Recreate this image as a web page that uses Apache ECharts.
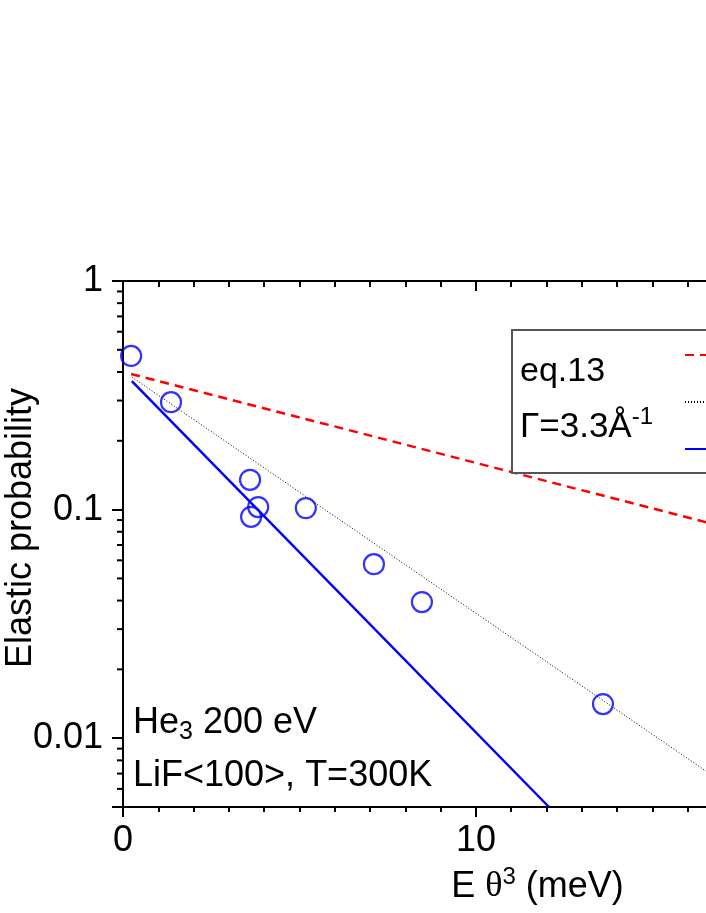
<!DOCTYPE html>
<html>
<head>
<meta charset="utf-8">
<script src="https://cdn.jsdelivr.net/npm/echarts@6/dist/echarts.min.js"></script>
<style>
html,body{margin:0;padding:0;background:#fff;}
#main{width:706px;height:913px;}
</style>
</head>
<body>
<div id="main"></div>
<script>
// measured points (E theta^3 in meV, elastic probability)
var xPoints = [0.23, 1.36, 3.6, 3.83, 3.63, 5.18, 7.11, 8.47, 13.6];
var yPoints = [0.47, 0.295, 0.135, 0.1026, 0.093, 0.1015, 0.0577, 0.0394, 0.0141];

// straight lines on the log plot, start and end
var eqX = [0.23, 20];
var eqY = [0.392, 0.064];
var gammaX = [0.25, 18.0];
var gammaY = [0.38, 0.005];
var fitX = [0.25, 12.07];
var fitY = [0.365, 0.005];

var yMinorTicks = [0.006, 0.007, 0.008, 0.009,
	0.02, 0.03, 0.04, 0.05, 0.06, 0.07, 0.08, 0.09,
	0.2, 0.3, 0.4, 0.5, 0.6, 0.7, 0.8, 0.9];

var FONT = '"Liberation Sans", Arial, sans-serif';

function zip(a, b) {
	return a.map(function(v, i) { return [v, b[i]]; });
}

function logLabel(v) {
	var e = Math.log10(v);
	if (Math.abs(e - Math.round(e)) > 1e-6) return '';
	return String(+v.toPrecision(3));
}

var myChart = echarts.init(document.getElementById('main'));

var tickStyle = {color: '#000', width: 2};

var option = {
	animation: false,
	backgroundColor: '#fff',
	grid: {
		left: 123,
		top: 281,
		bottom: 106,
		right: -264,
		containLabel: false,
		outerBoundsMode: 'none'
	},
	legend: {
		data: ['eq.13', 'Γ=3.3Å⁻¹', 'fit'],
		orient: 'vertical',
		left: 679,
		top: 344,
		itemWidth: 60,
		itemHeight: 14,
		itemGap: 35,
		selectedMode: false,
		textStyle: {fontSize: 12, color: '#000'}
	},
	xAxis: [{
		type: 'value',
		position: 'bottom',
		min: 0,
		max: 24,
		interval: 10,
		axisLine: {show: true, onZero: false, lineStyle: tickStyle},
		axisTick: {show: true, inside: false, length: 10, lineStyle: tickStyle},
		minorTick: {show: true, splitNumber: 10, length: 5, lineStyle: tickStyle},
		splitLine: {show: false},
		minorSplitLine: {show: false},
		axisLabel: {
			color: '#000', fontSize: 36, fontFamily: FONT, margin: 16,
			formatter: function(v) { return v === 24 ? '' : String(v); }
		},
		name: '{t|E }{th|θ}{sup|3}{t| (meV)}',
		nameLocation: 'middle',
		nameGap: 58,
		nameMoveOverlap: false,
		nameTextStyle: {
			padding: [0, 18, 0, 0],
			rich: {
				t: {fontSize: 36, lineHeight: 44, fontFamily: FONT, color: '#000'},
				th: {fontSize: 36, lineHeight: 44, fontFamily: '"Liberation Serif", serif', color: '#000'},
				sup: {fontSize: 24, lineHeight: 24, fontFamily: FONT, color: '#000', verticalAlign: 'top'}
			}
		}
	}, {
		type: 'value',
		position: 'top',
		min: 0,
		max: 24,
		interval: 10,
		axisLine: {show: true, onZero: false, lineStyle: tickStyle},
		axisTick: {show: true, inside: true, length: 10, lineStyle: tickStyle},
		minorTick: {show: true, splitNumber: 10, length: 6, lineStyle: tickStyle},
		splitLine: {show: false},
		axisLabel: {show: false}
	}],
	yAxis: {
		type: 'log',
		logBase: 10,
		min: 0.005,
		max: 1,
		axisLine: {show: true, onZero: false, lineStyle: tickStyle},
		axisTick: {show: true, inside: false, length: 11, lineStyle: tickStyle},
		splitLine: {show: false},
		axisLabel: {
			color: '#000', fontSize: 36, fontFamily: FONT, margin: 20,
			formatter: logLabel
		},
		name: 'Elastic probability',
		nameLocation: 'middle',
		nameGap: 84,
		nameMoveOverlap: false,
		nameTextStyle: {
			color: '#000', fontSize: 36, fontFamily: FONT,
			padding: [0, 0, 0, 32]
		}
	},
	graphic: [{
		type: 'rect',
		z: 3,
		shape: {x: 512, y: 330, width: 400, height: 143},
		style: {fill: '#fff', stroke: '#555', lineWidth: 2}
	}, {
		type: 'text',
		z: 5,
		x: 520,
		y: 372,
		style: {
			text: 'eq.13', font: '34px ' + FONT, fill: '#000',
			verticalAlign: 'middle'
		}
	}, {
		type: 'text',
		z: 5,
		x: 520,
		y: 427,
		style: {
			text: '{a|Γ=3.3Å}{s|-1}',
			verticalAlign: 'middle',
			rich: {
				a: {fontSize: 35, lineHeight: 44, fontFamily: FONT, fill: '#000'},
				s: {fontSize: 24, lineHeight: 24, fontFamily: FONT, fill: '#000', verticalAlign: 'top'}
			}
		}
	}, {
		type: 'text',
		z: 5,
		x: 133,
		y: 723,
		style: {
			text: '{a|He}{s|3}{a| 200 eV}',
			verticalAlign: 'middle',
			rich: {
				a: {fontSize: 36, lineHeight: 44, fontFamily: FONT, fill: '#000'},
				s: {fontSize: 25, lineHeight: 25, fontFamily: FONT, fill: '#000', verticalAlign: 'bottom'}
			}
		}
	}, {
		type: 'text',
		z: 5,
		x: 133,
		y: 776,
		style: {
			text: 'LiF<100>, T=300K',
			font: '36px ' + FONT, fill: '#000',
			verticalAlign: 'middle'
		}
	}],
	series: [{
		name: 'eq.13',
		type: 'line',
		data: zip(eqX, eqY),
		showSymbol: false,
		symbol: 'none',
		z: 2,
		lineStyle: {color: '#ff0000', width: 2.5, type: [9, 6]},
		itemStyle: {color: '#ff0000'}
	}, {
		name: 'Γ=3.3Å⁻¹',
		type: 'line',
		data: zip(gammaX, gammaY),
		showSymbol: false,
		symbol: 'none',
		z: 2,
		lineStyle: {color: '#000', width: 1, type: [1, 2]},
		itemStyle: {color: '#000'}
	}, {
		name: 'fit',
		type: 'line',
		data: zip(fitX, fitY),
		showSymbol: false,
		symbol: 'none',
		z: 2,
		lineStyle: {color: '#0000ff', width: 2.5},
		itemStyle: {color: '#0000ff'}
	}, {
		name: 'data',
		type: 'scatter',
		data: zip(xPoints, yPoints),
		symbol: 'circle',
		symbolSize: 20,
		z: 4,
		itemStyle: {color: 'rgba(0,0,0,0)', borderColor: '#0000ff', borderWidth: 2.2}
	}, {
		name: 'yminor',
		type: 'custom',
		silent: true,
		clip: false,
		z: 5,
		data: yMinorTicks.map(function(v) { return [0, v]; }),
		renderItem: function(params, api) {
			var p = api.coord([api.value(0), api.value(1)]);
			return {
				type: 'line',
				shape: {x1: p[0] - 6, y1: p[1], x2: p[0], y2: p[1]},
				style: {stroke: '#000', lineWidth: 2}
			};
		}
	}]
};

myChart.setOption(option);
</script>
</body>
</html>
